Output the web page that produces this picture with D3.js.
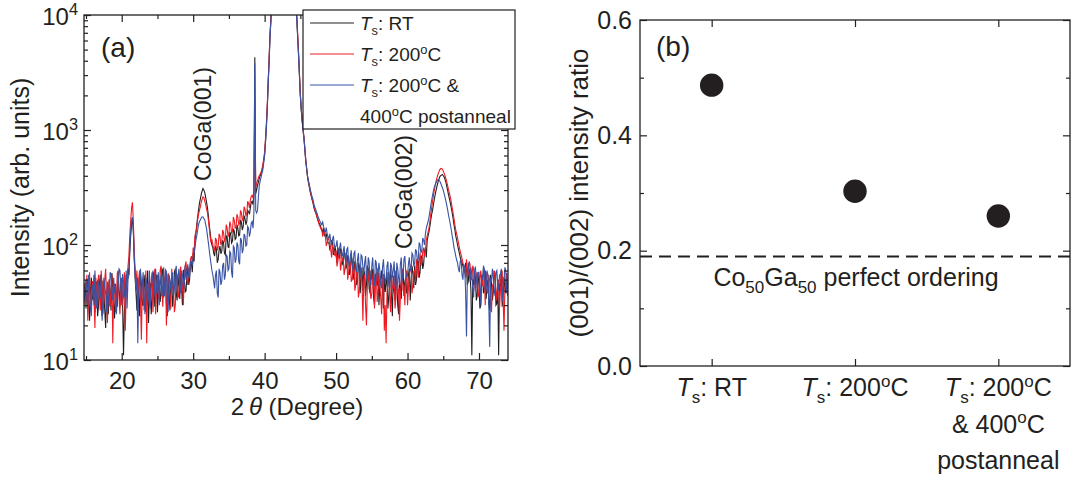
<!DOCTYPE html>
<html>
<head>
<meta charset="utf-8">
<script src="https://cdn.jsdelivr.net/npm/d3@7"></script>
<style>
  body { margin: 0; background: #fff; }
  text { font-family: "Liberation Sans", Arial, sans-serif; fill: #231f20; }
</style>
</head>
<body>
<script>
// 2theta sampling grid of the scans (deg), 14.75 .. 74.0
var twoTheta = d3.range(14.75, 74.001, 0.125);

// XRD intensities, one value per grid step (8 per degree)
var rtScan = [
  38, 47,
  28, 51, 45, 31, 22, 40, 52, 35,          // 15
  33, 55, 26, 42, 48, 24, 30, 46,          // 16
  55, 32, 24, 49, 40, 27, 19, 37,          // 17
  36, 25, 50, 41, 27, 57, 44, 30,          // 18
  23, 46, 38, 29, 58, 40, 29, 51,          // 19
  42, 30, 11, 26, 35, 55, 48, 62,          // 20
  55, 85, 120, 150, 170, 130, 75, 52,      // 21
  38, 27, 52, 35, 24, 58, 46, 30,          // 22
  30, 44, 55, 26, 40, 60, 21, 38,          // 23
  47, 25, 33, 52, 58, 29, 36, 55,          // 24
  26, 41, 49, 32, 38, 62, 60, 35,          // 25
  42, 56, 31, 24, 55, 40, 27, 48,          // 26
  50, 29, 37, 58, 62, 38, 33, 54,          // 27
  45, 34, 58, 42, 30, 61, 52, 39,          // 28
  40, 55, 64, 45, 50, 68, 70, 58,          // 29
  85, 72, 110, 125, 150, 175, 200, 230,    // 30
  250, 275, 295, 310, 300, 285, 260, 235,  // 31
  210, 180, 150, 128, 110, 100, 95, 85,    // 32
  80, 98, 92, 70, 75, 90, 98, 84,          // 33
  88, 110, 105, 85, 82, 120, 118, 96,      // 34
  95, 130, 125, 104, 108, 138, 132, 112,   // 35
  115, 150, 140, 120, 122, 165, 158, 135,  // 36
  145, 180, 170, 150, 160, 200, 195, 185,  // 37
  210, 235, 240, 225, 270, 4300, 280, 300, // 38
  330, 350, 380, 400, 420, 445, 480, 540,  // 39
  620, 800, 1100, 1600, 2600, 4000, 6500, 9000,            // 40
  15000, 22000, 30000, 40000, 50000, 55000, 60000, 60000,  // 41
  60000, 60000, 60000, 60000, 60000, 60000, 60000, 60000,  // 42
  60000, 55000, 50000, 45000, 40000, 35000, 30000, 25000,  // 43
  20000, 18000, 16000, 12000, 9500, 6500, 4500, 3000,      // 44
  2000, 1500, 1200, 1000, 850, 680, 540, 460,              // 45
  390, 350, 320, 290, 270, 250, 235, 215,  // 46
  200, 192, 185, 170, 160, 155, 150, 142,  // 47
  135, 128, 140, 122, 118, 126, 112, 104,  // 48
  104, 92, 96, 110, 105, 82, 88, 98,       // 49
  82, 70, 95, 86, 76, 92, 90, 68,          // 50
  70, 88, 84, 62, 66, 80, 78, 55,          // 51
  60, 80, 74, 50, 55, 72, 69, 45,          // 52
  48, 70, 66, 38, 52, 64, 40, 56,          // 53
  58, 36, 45, 66, 62, 42, 38, 60,          // 54
  50, 62, 35, 30, 56, 48, 44, 63,          // 55
  30, 45, 52, 60, 41, 28, 55, 39,          // 56
  46, 58, 28, 35, 50, 62, 37, 24,          // 57
  54, 40, 33, 60, 47, 30, 25, 50,          // 58
  44, 34, 58, 62, 36, 48, 52, 38,          // 59
  40, 55, 62, 33, 48, 66, 57, 42,          // 60
  66, 45, 50, 75, 72, 52, 58, 80,          // 61
  80, 62, 68, 88, 95, 78, 110, 120,        // 62
  130, 145, 165, 185, 200, 225, 250, 275,  // 63
  300, 325, 350, 370, 390, 400, 405, 410,  // 64
  400, 390, 370, 350, 320, 295, 270, 250,  // 65
  230, 210, 190, 170, 150, 135, 120, 110,  // 66
  100, 92, 85, 78, 72, 70, 66, 60,         // 67
  58, 70, 64, 45, 48, 62, 55, 40,          // 68
  11, 50, 45, 60, 52, 33, 36, 55,          // 69
  48, 28, 30, 52, 55, 38, 41, 60,          // 70
  34, 45, 50, 31, 27, 55, 46, 33,          // 71
  39, 58, 56, 30, 31, 48, 11, 45,          // 72
  44, 60, 29, 36, 53, 42, 38, 57,          // 73
  42
];
var t200Scan = [
  45, 30,
  35, 55, 22, 40, 58, 27, 30, 48,          // 15
  48, 33, 19, 52, 40, 29, 55, 38,          // 16
  27, 60, 44, 25, 33, 50, 62, 36,          // 17
  21, 42, 50, 30, 38, 55, 14, 40,          // 18
  46, 26, 30, 57, 60, 34, 25, 48,          // 19
  52, 30, 36, 58, 18, 40, 44, 65,          // 20
  80, 120, 160, 210, 235, 160, 90, 60,     // 21
  45, 60, 28, 50, 60, 33, 15, 42,          // 22
  52, 27, 35, 60, 14, 45, 48, 30,          // 23
  30, 50, 58, 26, 42, 62, 25, 44,          // 24
  55, 34, 38, 60, 66, 40, 29, 52,          // 25
  44, 62, 20, 38, 57, 46, 35, 28,          // 26
  62, 42, 40, 26, 30, 58, 55, 35,          // 27
  36, 55, 65, 40, 48, 30, 58, 66,          // 28
  72, 50, 45, 62, 60, 75, 80, 70,          // 29
  95, 85, 120, 130, 140, 165, 185, 200,    // 30
  215, 235, 250, 262, 258, 240, 225, 205,  // 31
  190, 165, 140, 118, 105, 112, 100, 92,   // 32
  88, 115, 110, 90, 96, 125, 120, 100,     // 33
  105, 135, 128, 108, 112, 150, 140, 118,  // 34
  125, 160, 150, 128, 132, 175, 165, 140,  // 35
  142, 185, 175, 150, 155, 200, 190, 165,  // 36
  170, 215, 205, 180, 185, 240, 230, 210,  // 37
  245, 265, 270, 255, 300, 1800, 320, 340, // 38
  360, 385, 400, 415, 430, 460, 500, 560,  // 39
  650, 850, 1150, 1700, 2700, 4200, 6800, 9300,            // 40
  15000, 22000, 30000, 40000, 50000, 55000, 60000, 60000,  // 41
  60000, 60000, 60000, 60000, 60000, 60000, 60000, 60000,  // 42
  60000, 55000, 50000, 45000, 40000, 35000, 30000, 25000,  // 43
  20000, 18500, 16500, 12500, 9800, 6800, 4700, 3100,      // 44
  2050, 1550, 1250, 1020, 870, 700, 560, 470,              // 45
  400, 360, 330, 300, 275, 255, 240, 220,  // 46
  205, 195, 180, 172, 165, 150, 145, 138,  // 47
  140, 118, 128, 132, 120, 98, 105, 115,   // 48
  112, 100, 92, 78, 100, 94, 84, 80,       // 49
  90, 65, 72, 84, 86, 60, 70, 75,          // 50
  78, 55, 62, 74, 80, 50, 58, 68,          // 51
  70, 48, 50, 64, 66, 40, 45, 58,          // 52
  58, 35, 40, 55, 62, 48, 22, 50,          // 53
  55, 30, 20, 45, 50, 60, 42, 34,          // 54
  38, 52, 60, 28, 45, 58, 32, 40,          // 55
  57, 44, 35, 25, 50, 56, 18, 30,          // 56
  14, 38, 48, 58, 36, 26, 55, 42,          // 57
  42, 55, 28, 35, 58, 44, 40, 22,          // 58
  35, 50, 62, 40, 45, 30, 54, 60,          // 59
  30, 42, 55, 62, 68, 38, 44, 58,          // 60
  60, 48, 75, 62, 52, 70, 85, 66,          // 61
  72, 88, 95, 80, 88, 110, 120, 130,       // 62
  140, 160, 185, 210, 240, 270, 300, 330,  // 63
  360, 385, 410, 430, 450, 460, 464, 455,  // 64
  440, 420, 400, 375, 350, 325, 300, 280,  // 65
  260, 235, 210, 190, 170, 150, 135, 125,  // 66
  115, 105, 95, 88, 82, 76, 70, 66,        // 67
  64, 52, 75, 60, 55, 72, 68, 50,          // 68
  50, 66, 62, 45, 40, 55, 58, 38,          // 69
  35, 50, 60, 48, 44, 62, 52, 30,          // 70
  58, 40, 38, 55, 49, 33, 26, 45,          // 71
  45, 60, 55, 40, 33, 48, 50, 28,          // 72
  40, 55, 60, 35, 18, 42, 48, 56,          // 73
  36
];
var annealScan = [
  32, 44,
  50, 36, 30, 55, 40, 28, 24, 45,          // 15
  42, 30, 60, 38, 28, 50, 46, 34,          // 16
  35, 55, 22, 30, 52, 44, 38, 26,          // 17
  48, 36, 29, 58, 56, 40, 33, 52,          // 18
  38, 45, 25, 34, 45, 62, 60, 42,          // 19
  30, 56, 48, 35, 40, 60, 28, 50,          // 20
  55, 95, 130, 165, 175, 140, 80, 55,      // 21
  40, 52, 14, 38, 50, 62, 32, 45,          // 22
  58, 36, 25, 52, 45, 30, 36, 60,          // 23
  28, 42, 50, 60, 35, 48, 62, 38,          // 24
  40, 58, 30, 45, 55, 36, 45, 64,          // 25
  36, 48, 60, 32, 26, 55, 50, 40,          // 26
  44, 58, 35, 42, 58, 66, 40, 52,          // 27
  62, 45, 38, 60, 55, 42, 45, 66,          // 28
  50, 62, 68, 52, 55, 72, 72, 66,          // 29
  78, 85, 95, 110, 120, 135, 150, 160,     // 30
  165, 172, 176, 175, 170, 165, 150, 138,  // 31
  120, 105, 90, 78, 68, 60, 55, 48,        // 32
  42, 55, 60, 38, 35, 62, 58, 45,          // 33
  48, 66, 70, 50, 55, 82, 80, 60,          // 34
  62, 88, 85, 58, 52, 98, 95, 70,          // 35
  75, 105, 100, 72, 68, 115, 110, 85,      // 36
  92, 125, 120, 98, 100, 145, 140, 118,    // 37
  130, 155, 160, 140, 190, 3800, 200, 190, // 38
  200, 260, 330, 360, 390, 420, 450, 520,  // 39
  600, 780, 1050, 1550, 2500, 3900, 6300, 8800,            // 40
  15000, 22000, 30000, 40000, 50000, 55000, 60000, 60000,  // 41
  60000, 60000, 60000, 60000, 60000, 60000, 60000, 60000,  // 42
  60000, 55000, 50000, 45000, 40000, 35000, 30000, 25000,  // 43
  20000, 17500, 15500, 12000, 9200, 6300, 4400, 2900,      // 44
  1950, 1500, 1220, 1000, 860, 690, 550, 470,              // 45
  400, 365, 335, 305, 285, 265, 250, 230,  // 46
  215, 205, 195, 185, 175, 168, 160, 155,  // 47
  150, 158, 145, 132, 130, 142, 125, 118,  // 48
  115, 125, 108, 100, 112, 120, 100, 95,   // 49
  98, 110, 90, 82, 95, 105, 85, 80,        // 50
  88, 98, 78, 70, 92, 95, 72, 66,          // 51
  80, 90, 68, 60, 85, 88, 62, 58,          // 52
  75, 85, 58, 52, 82, 80, 65, 56,          // 53
  70, 80, 55, 48, 78, 72, 50, 45,          // 54
  66, 78, 52, 44, 74, 70, 48, 58,          // 55
  70, 60, 45, 42, 64, 75, 55, 48,          // 56
  50, 66, 72, 45, 42, 70, 66, 52,          // 57
  60, 72, 45, 40, 70, 62, 52, 45,          // 58
  68, 78, 48, 55, 75, 80, 58, 52,          // 59
  55, 68, 78, 60, 62, 85, 82, 65,          // 60
  70, 92, 88, 72, 75, 105, 100, 85,        // 61
  90, 115, 110, 100, 125, 140, 150, 160,   // 62
  175, 195, 220, 245, 270, 295, 320, 335,  // 63
  350, 362, 370, 368, 360, 348, 330, 315,  // 64
  300, 280, 260, 240, 220, 200, 180, 165,  // 65
  150, 135, 120, 108, 95, 88, 80, 74,      // 66
  70, 62, 58, 72, 75, 55, 50, 68,          // 67
  62, 40, 16, 55, 70, 58, 48, 64,          // 68
  55, 42, 35, 60, 65, 50, 42, 58,          // 69
  58, 45, 30, 55, 50, 66, 62, 40,          // 70
  40, 60, 55, 30, 13, 52, 48, 62,          // 71
  52, 40, 36, 58, 60, 45, 40, 55,          // 72
  55, 62, 32, 42, 48, 64, 60, 38,          // 73
  45
];

var scanNames = ["{i:T}{sub:s}: RT", "{i:T}{sub:s}: 200{sup:o}C", "{i:T}{sub:s}: 200{sup:o}C &"];
var scanColors = ["#231f20", "#ed1c24", "#3953a4"];

// panel (b): (001)/(002) ratio per sample
var samples = [
  ["{i:T}{sub:s}: RT"],
  ["{i:T}{sub:s}: 200{sup:o}C"],
  ["{i:T}{sub:s}: 200{sup:o}C", "& 400{sup:o}C", "postanneal"]
];
var ratios = [0.487, 0.303, 0.260];
var perfectRatio = 0.19;

var xTicksA = [20, 30, 40, 50, 60, 70];
var xMinorA = [15, 25, 35, 45, 55, 65];
var yTicksA = [10, 100, 1000, 10000];
var yTicksB = [0, 0.2, 0.4, 0.6];
var yMinorB = [0.1, 0.3, 0.5];

// write "{i:T}{sub:s}: 200{sup:o}C" style strings as tspans
function rich(text, str, fs) {
  var parts = str.split(/(\{(?:i|sub|sup):[^}]*\})/).filter(function(s) { return s.length; });
  var off = 0;
  parts.forEach(function(p) {
    var m = p.match(/^\{(i|sub|sup):([^}]*)\}$/);
    var kind = m ? m[1] : "n", t = m ? m[2] : p;
    var target = 0, size = fs;
    if (kind == "sub") { target = fs * 0.28; size = fs * 0.68; }
    if (kind == "sup") { target = -fs * 0.38; size = fs * 0.68; }
    text.append("tspan")
      .attr("dy", target - off)
      .attr("font-size", size)
      .attr("font-style", kind == "i" ? "italic" : null)
      .text(t);
    off = target;
  });
}

function styleAxis(g) {
  g.select(".domain").remove();
  g.selectAll("line").attr("stroke", "#231f20").attr("stroke-width", 1.2);
  g.attr("font-family", null).attr("font-size", null);
}

window.onload = function() {
  var svg = d3.select("body").append("svg")
    .attr("width", 1075)
    .attr("height", 481);

  // ---------- panel (a) ----------
  var a = {l: 84, r: 508, t: 15, b: 360};
  var x = d3.scaleLinear().domain([14.72, 74.06]).range([a.l, a.r]);
  var y = d3.scaleLog().domain([10, 10000]).range([a.b, a.t]);
  var yMinorA = y.ticks().filter(function(d) { return yTicksA.indexOf(d) < 0; });

  svg.append("clipPath").attr("id", "clipA")
    .append("rect").attr("x", a.l).attr("y", a.t).attr("width", a.r - a.l).attr("height", a.b - a.t);

  var line = d3.line()
    .x(function(d, i) { return x(twoTheta[i]); })
    .y(function(d) { return y(d); });

  var plotA = svg.append("g").attr("clip-path", "url(#clipA)");
  [rtScan, t200Scan, annealScan].forEach(function(s, k) {
    plotA.append("path")
      .datum(s)
      .attr("d", line)
      .attr("fill", "none")
      .attr("stroke", scanColors[k])
      .attr("stroke-width", 1.1);
  });

  svg.append("rect")
    .attr("x", a.l).attr("y", a.t).attr("width", a.r - a.l).attr("height", a.b - a.t)
    .attr("fill", "none").attr("stroke", "#231f20").attr("stroke-width", 1.3);

  // ticks all point inward
  svg.append("g").attr("transform", "translate(0," + a.b + ")")
    .call(d3.axisBottom(x).tickValues(xTicksA).tickSize(-7).tickPadding(12).tickFormat(d3.format("d")))
    .call(styleAxis)
    .selectAll("text").attr("font-size", 24);
  svg.append("g").attr("transform", "translate(0," + a.b + ")")
    .call(d3.axisBottom(x).tickValues(xMinorA).tickSize(-4).tickFormat(""))
    .call(styleAxis);
  svg.append("g").attr("transform", "translate(0," + a.t + ")")
    .call(d3.axisTop(x).tickValues(xTicksA).tickSize(-7).tickFormat(""))
    .call(styleAxis);
  svg.append("g").attr("transform", "translate(0," + a.t + ")")
    .call(d3.axisTop(x).tickValues(xMinorA).tickSize(-4).tickFormat(""))
    .call(styleAxis);

  var yAxisA = svg.append("g").attr("transform", "translate(" + a.l + ",0)")
    .call(d3.axisLeft(y).tickValues(yTicksA).tickSize(-7).tickPadding(6).tickFormat(""))
    .call(styleAxis);
  yAxisA.selectAll("text").each(function(d) {
    var t = d3.select(this).attr("font-size", 24).attr("dy", null).attr("y", 9);
    rich(t, "10{sup:" + Math.round(Math.log10(d)) + "}", 24);
  });
  svg.append("g").attr("transform", "translate(" + a.l + ",0)")
    .call(d3.axisLeft(y).tickValues(yMinorA).tickSize(-4).tickFormat(""))
    .call(styleAxis);
  svg.append("g").attr("transform", "translate(" + a.r + ",0)")
    .call(d3.axisRight(y).tickValues(yTicksA).tickSize(-7).tickFormat(""))
    .call(styleAxis);
  svg.append("g").attr("transform", "translate(" + a.r + ",0)")
    .call(d3.axisRight(y).tickValues(yMinorA).tickSize(-4).tickFormat(""))
    .call(styleAxis);

  svg.append("text")
    .attr("transform", "translate(29," + (a.t + a.b) / 2 + ") rotate(-90)")
    .attr("text-anchor", "middle")
    .attr("font-size", 25)
    .text("Intensity (arb. units)");

  var xLab = svg.append("text")
    .attr("x", 297).attr("y", 415)
    .attr("text-anchor", "middle")
    .attr("font-size", 24);
  rich(xLab, "2{i:\u2009\u03b8} (Degree)", 24);

  svg.append("text").attr("x", 101).attr("y", 57).attr("font-size", 28).text("(a)");

  svg.append("text")
    .attr("transform", "translate(" + (x(31.4) + 8) + ",124) rotate(-90)")
    .attr("text-anchor", "middle").attr("font-size", 23)
    .text("CoGa(001)");
  svg.append("text")
    .attr("transform", "translate(" + (x(64.8) - 30) + ",192) rotate(-90)")
    .attr("text-anchor", "middle").attr("font-size", 23)
    .text("CoGa(002)");

  // legend
  var leg = svg.append("g").attr("transform", "translate(303,10)");
  leg.append("rect").attr("width", 212).attr("height", 119)
    .attr("fill", "#fff").attr("stroke", "#231f20").attr("stroke-width", 1.2);
  scanNames.forEach(function(n, k) {
    var yy = 13 + k * 31;
    leg.append("line").attr("x1", 7).attr("x2", 51).attr("y1", yy).attr("y2", yy)
      .attr("stroke", scanColors[k]).attr("stroke-width", 1);
    var t = leg.append("text").attr("x", 57).attr("y", yy + 7).attr("font-size", 19);
    rich(t, n, 19);
  });
  var t4 = leg.append("text").attr("x", 57).attr("y", 113).attr("font-size", 19);
  rich(t4, "400{sup:o}C postanneal", 19);

  // ---------- panel (b) ----------
  var b = {l: 640, r: 1070, t: 20, b: 366};
  var xb = d3.scaleLinear().domain([0.5, 3.5]).range([b.l, b.r]);
  var yb = d3.scaleLinear().domain([0, 0.6]).range([b.b, b.t]);
  var catPos = samples.map(function(d, i) { return i + 1; });

  svg.append("rect")
    .attr("x", b.l).attr("y", b.t).attr("width", b.r - b.l).attr("height", b.b - b.t)
    .attr("fill", "none").attr("stroke", "#231f20").attr("stroke-width", 1.3);

  svg.append("g").attr("transform", "translate(0," + b.b + ")")
    .call(d3.axisBottom(xb).tickValues(catPos).tickSize(-7).tickFormat(""))
    .call(styleAxis);
  svg.append("g").attr("transform", "translate(0," + b.t + ")")
    .call(d3.axisTop(xb).tickValues(catPos).tickSize(-7).tickFormat(""))
    .call(styleAxis);
  svg.append("g").attr("transform", "translate(" + b.l + ",0)")
    .call(d3.axisLeft(yb).tickValues(yTicksB).tickSize(-7).tickPadding(8).tickFormat(d3.format(".1f")))
    .call(styleAxis)
    .selectAll("text").attr("font-size", 25);
  svg.append("g").attr("transform", "translate(" + b.l + ",0)")
    .call(d3.axisLeft(yb).tickValues(yMinorB).tickSize(-4).tickFormat(""))
    .call(styleAxis);
  svg.append("g").attr("transform", "translate(" + b.r + ",0)")
    .call(d3.axisRight(yb).tickValues(yTicksB).tickSize(-7).tickFormat(""))
    .call(styleAxis);
  svg.append("g").attr("transform", "translate(" + b.r + ",0)")
    .call(d3.axisRight(yb).tickValues(yMinorB).tickSize(-4).tickFormat(""))
    .call(styleAxis);

  samples.forEach(function(lines, i) {
    lines.forEach(function(l, j) {
      var t = svg.append("text")
        .attr("x", xb(i + 1))
        .attr("y", 396 + j * 36.5)
        .attr("text-anchor", "middle")
        .attr("font-size", 25);
      rich(t, l, 25);
    });
  });

  svg.append("line")
    .attr("x1", b.l).attr("x2", b.r)
    .attr("y1", yb(perfectRatio)).attr("y2", yb(perfectRatio))
    .attr("stroke", "#231f20").attr("stroke-width", 2)
    .attr("stroke-dasharray", "12,7");

  var pl = svg.append("text")
    .attr("x", 856).attr("y", 286)
    .attr("text-anchor", "middle").attr("font-size", 25);
  rich(pl, "Co{sub:50}Ga{sub:50} perfect ordering", 25);

  svg.selectAll(".dot")
    .data(ratios)
    .enter()
    .append("circle")
    .attr("class", "dot")
    .attr("cx", function(d, i) { return xb(i + 1); })
    .attr("cy", function(d) { return yb(d); })
    .attr("r", 11.7)
    .attr("fill", "#231f20");

  svg.append("text")
    .attr("transform", "translate(588," + (b.t + b.b) / 2 + ") rotate(-90)")
    .attr("text-anchor", "middle")
    .attr("font-size", 26)
    .text("(001)/(002) intensity ratio");

  svg.append("text").attr("x", 656).attr("y", 56).attr("font-size", 28).text("(b)");
};
</script>
</body>
</html>
